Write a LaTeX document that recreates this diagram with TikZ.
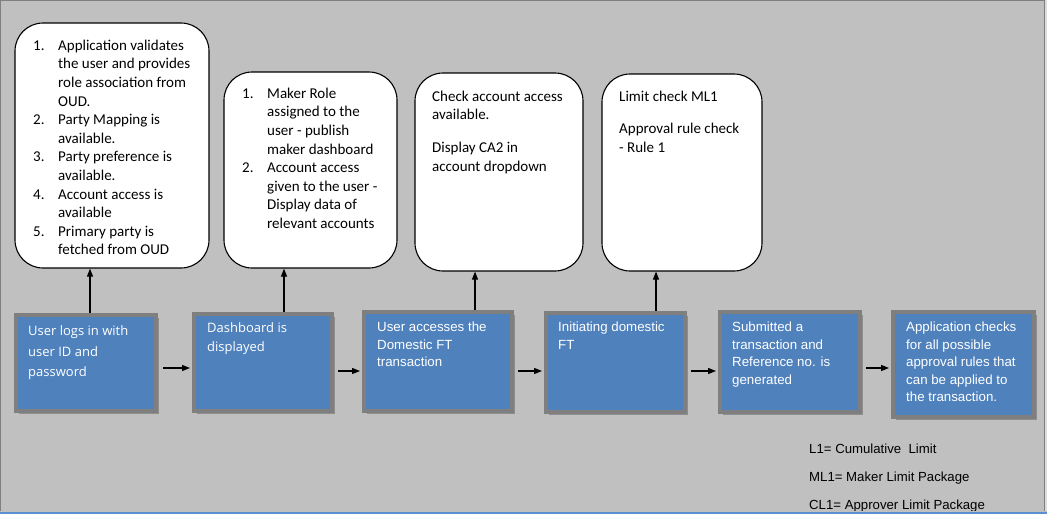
\documentclass[tikz,border=0pt]{standalone}
\usepackage{fontspec}
\setmainfont{Liberation Sans}
\newfontfamily\calloutfont{Carlito}
\newfontfamily\segfont{Open Sans}
\usetikzlibrary{arrows.meta,shadows}
\definecolor{outerbg}{HTML}{DCDCDC}
\definecolor{bg}{HTML}{C0C0C0}
\definecolor{frame}{HTML}{808080}
\definecolor{boxblue}{HTML}{4F81BD}
\definecolor{boxline}{HTML}{7F7F7F}
\definecolor{shadowgray}{HTML}{8E8E8E}
\definecolor{bottomblue}{HTML}{5B8FD0}
\newcommand{\tlines}[1]{\begin{tabular}{@{}l@{}}#1\end{tabular}}
\newcommand{\tlist}[1]{\begin{tabular}{@{}p{25pt}@{}l@{}}#1\end{tabular}}
\tikzset{
  bbox/.style={draw=boxline, line width=4pt, fill=boxblue, inner sep=0pt,
    drop shadow={shadow xshift=3pt, shadow yshift=-3pt, fill=shadowgray, opacity=1}},
  callout/.style={draw=black, line width=1.1pt, fill=white, rounded corners=28pt, inner sep=0pt},
  ctext/.style={anchor=north west, inner sep=0pt, font=\calloutfont\fontsize{15}{18.6}\selectfont},
  btext/.style={anchor=north west, inner sep=0pt, text=white, font=\fontsize{13.3}{17.6}\selectfont},
  arr/.style={draw=black, line width=1.1pt, -{Triangle[length=8pt,width=6pt]}},
  legend/.style={anchor=west, inner sep=0pt, font=\fontsize{13.2}{15}\selectfont},
}
\begin{document}
\begin{tikzpicture}[x=1pt,y=-1pt]
\useasboundingbox (0,0) rectangle (1047,514);
\fill[outerbg] (0,0) rectangle (1047,514);
\draw[frame, line width=1.2pt, fill=bg] (0.6,0.6) rectangle (1044.8,511.5);

% callouts
\node[callout, minimum width=194pt, minimum height=245pt] (c1) at (112,145.5) {};
\node[callout, minimum width=173pt, minimum height=196pt] (c2) at (310.5,170) {};
\node[callout, minimum width=168pt, minimum height=198pt] (c3) at (499,172) {};
\node[callout, minimum width=160pt, minimum height=197pt] (c4) at (682,172.5) {};

% blue boxes
\node[bbox, minimum width=140pt, minimum height=96pt] (b1) at (86,363) {};
\node[bbox, minimum width=138pt, minimum height=97pt] (b2) at (263,362.5) {};
\node[bbox, minimum width=148pt, minimum height=99pt] (b3) at (438,361.5) {};
\node[bbox, minimum width=139pt, minimum height=99pt] (b4) at (615.5,362.5) {};
\node[bbox, minimum width=140pt, minimum height=100pt] (b5) at (790,362) {};
\node[bbox, minimum width=141pt, minimum height=105pt] (b6) at (963.5,364.5) {};

% connector guide coordinates
\coordinate (v1) at (90,0);
\coordinate (v2) at (284,0);
\coordinate (v3) at (475,0);
\coordinate (v4) at (656,0);
\coordinate (h1) at (0,368);
\coordinate (h2) at (0,371);
\coordinate (h5) at (0,368);

% vertical connectors
\draw[arr] (b1.north -| v1) -- (c1.south -| v1);
\draw[arr] (b2.north -| v2) -- (c2.south -| v2);
\draw[arr] (b3.north -| v3) -- (c3.south -| v3);
\draw[arr] (b4.north -| v4) -- (c4.south -| v4);

% horizontal connectors
\draw[arr, shorten <=5pt, shorten >=2pt] (b1.east |- h1) -- (b2.west |- h1);
\draw[arr, shorten <=4pt, shorten >=2pt] (b2.east |- h2) -- (b3.west |- h2);
\draw[arr, shorten <=4pt, shorten >=2pt] (b3.east |- h2) -- (b4.west |- h2);
\draw[arr, shorten <=4pt, shorten >=2pt] (b4.east |- h2) -- (b5.west |- h2);
\draw[arr, shorten <=4pt, shorten >=2pt] (b5.east |- h5) -- (b6.west |- h5);

% callout texts
\node[ctext] (t1) at (33,37) {\tlist{
1. & Application validates\\
   & the user and provides\\
   & role association from\\
   & OUD.\\
2. & Party Mapping is\\
   & available.\\
3. & Party preference is\\
   & available.\\
4. & Account access is\\
   & available\\
5. & Primary party is\\
   & fetched from OUD}};
\node[ctext] (t2) at (242,85) {\tlist{
1. & Maker Role\\
   & assigned to the\\
   & user - publish\\
   & maker dashboard\\
2. & Account access\\
   & given to the user -\\
   & Display data of\\
   & relevant accounts}};
\node[ctext] (t3) at (432,88) {\tlines{Check account access\\ available.\\[14pt] Display CA2 in\\ account dropdown}};
\node[ctext] (t4) at (619,88) {\tlines{Limit check ML1\\[14pt] Approval rule check\\ - Rule 1}};

% box texts
\node[btext, font=\segfont\fontsize{13}{20.5}\selectfont] (s1) at (28,321) {\tlines{User logs in with\\ user ID and\\ password}};
\node[btext, font=\segfont\fontsize{13}{19}\selectfont] (s2) at (207,319) {\tlines{Dashboard is\\ displayed}};
\node[btext] (s3) at (377,319) {\tlines{User accesses the\\ Domestic FT\\ transaction}};
\node[btext] (s4) at (558,319) {\tlines{Initiating domestic\\ FT}};
\node[btext] (s5) at (732,319) {\tlines{Submitted a\\ transaction and\\ Reference no. is\\ generated}};
\node[btext] (s6) at (906,319) {\tlines{Application checks\\ for all possible\\ approval rules that\\ can be applied to\\ the transaction.}};

% legend
\node[legend] (l1) at (809,449) {L1= Cumulative\ \ Limit};
\node[legend] (l2) at (809,478) {ML1= Maker Limit Package};
\node[legend] (l3) at (809,506) {CL1= Approver Limit Package};

% bottom edge
\fill[bg] (0,511) rectangle (1047,511.8);
\fill[bottomblue] (0,511.8) rectangle (1047,514);
\end{tikzpicture}
\end{document}
